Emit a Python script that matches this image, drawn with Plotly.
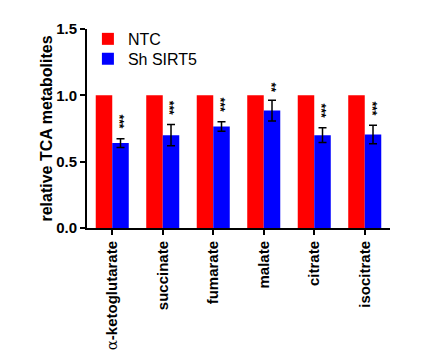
import plotly.graph_objects as go

categories = ["α-ketoglutarate", "succinate", "fumarate", "malate", "citrate", "isocitrate"]
ntc_values = [1.0, 1.0, 1.0, 1.0, 1.0, 1.0]
sirt5_values = [0.64, 0.70, 0.765, 0.885, 0.70, 0.705]
sirt5_errors = [0.033, 0.08, 0.035, 0.078, 0.055, 0.07]
significance = ["***", "***", "***", "**", "***", "***"]
y_ticks = [0.0, 0.5, 1.0, 1.5]
y_tick_labels = ["0.0", "0.5", "1.0", "1.5"]

font_family = "Liberation Sans, Arial, sans-serif"

# tick text: the Greek alpha is drawn in a plain serif face, as in the reference
tick_text = [
    c.replace("α", "<span style='font-family:DejaVu Serif;font-weight:normal'>α</span>")
    for c in categories
]

fig = go.Figure()
fig.add_trace(go.Bar(
    x=categories, y=ntc_values, name="NTC", legend="legend",
    marker=dict(color="#FF0000", line=dict(width=0)),
))
fig.add_trace(go.Bar(
    x=categories, y=sirt5_values, name="Sh SIRT5", legend="legend2",
    marker=dict(color="#0000FF", line=dict(width=0)),
    error_y=dict(type="data", array=sirt5_errors, color="black", thickness=1.5, width=4),
))

for cat, v, e, s in zip(categories, sirt5_values, sirt5_errors, significance):
    fig.add_annotation(
        x=cat, y=v + e, text="<b>" + s + "</b>", showarrow=False, textangle=90,
        xref="x", yref="y", xshift=7, yshift=17 if s == "***" else 13,
        font=dict(size=12, color="#000000", family=font_family),
    )

legend_style = dict(
    xanchor="left", yanchor="middle",
    font=dict(size=16, color="black", family=font_family),
    bgcolor="rgba(0,0,0,0)", borderwidth=0,
)

fig.update_layout(
    width=420, height=349,
    margin=dict(l=79, r=38, t=21, b=129, autoexpand=False),
    paper_bgcolor="white", plot_bgcolor="white",
    barmode="group", bargap=0.346, bargroupgap=0,
    font=dict(family=font_family, color="black"),
    showlegend=True,
    legend=dict(x=0.003, y=0.95, **legend_style),
    legend2=dict(x=0.003, y=0.85, **legend_style),
)
fig.update_xaxes(
    type="category", range=[-0.5, 5.5], automargin=False,
    tickvals=categories, ticktext=tick_text,
    showline=True, linecolor="black", linewidth=2,
    ticks="outside", ticklen=5, tickwidth=1.5, tickcolor="black",
    tickangle=-90, tickfont=dict(size=15, color="black", family=font_family, weight="bold"),
    showgrid=False, zeroline=False,
)
fig.update_yaxes(
    range=[0, 1.5], tickvals=y_ticks, ticktext=y_tick_labels, automargin=False,
    showline=True, linecolor="black", linewidth=2,
    ticks="outside", ticklen=5, tickwidth=1.5, tickcolor="black",
    tickfont=dict(size=15, color="black", family=font_family, weight="bold"),
    title=dict(text="relative TCA metabolites",
               font=dict(size=16, color="black", family=font_family, weight="bold"),
               standoff=0),
    showgrid=False, zeroline=False,
)

fig.write_html("out.html")
